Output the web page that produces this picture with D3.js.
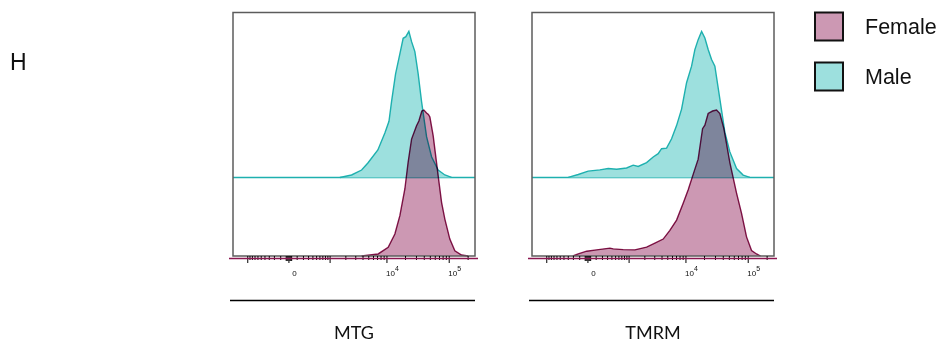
<!DOCTYPE html>
<html>
<head>
<meta charset="utf-8">
<title>MTG / TMRM histograms</title>
<script src="https://d3js.org/d3.v7.min.js"></script>
<style>
    body { margin: 0; background: #fff; }
    svg { display: block; }
    .tick-lbl { font: 8px "Liberation Sans", Arial, sans-serif; fill: #111; }
    .legend text { font: 21.5px "Liberation Sans", Arial, sans-serif; fill: #111; }
    .panel-name { font: 18px Lato, "Open Sans", sans-serif; fill: #111; }
    .fig-letter { font: 23px "Liberation Sans", Arial, sans-serif; fill: #111; }
</style>
</head>
<body>
<svg width="947" height="345"></svg>
<script>
// categories
const panelNames = ["MTG", "TMRM"];
const groups = ["Female", "Male"];

// histogram values: [fluorescence intensity, % of mode]
const mtgFemale = [[3857,0],[7310,1.4],[10670,6],[13710,15.1],[16520,27.6],[19890,45.9],[22450,64.2],
    [25500,80.1],[30640,89.2],[33380,92.5],[37280,99.3],[40130,100],[44320,98],[47370,97],[50060,95.2],
    [56480,82.4],[67870,55],[76930,36.8],[86800,25.3],[104200,11.6],[125300,3.6],[160100,0.7],[203900,0]];
const mtgMale = [[1588,0],[2589,1.7],[3857,5.1],[4930,9.9],[7230,18.8],[9420,30.5],[11000,38.5],
    [12110,51.9],[14080,70.9],[16520,84.6],[18670,95.3],[20640,96.4],[23060,100],[25500,93],[28790,86.2],
    [32520,70.9],[36860,51.9],[44320,27.9],[53260,14.2],[67870,5.1],[86800,1.7],[110900,0]];
const tmrmFemale = [[-200,0],[-114,1.4],[-8,3.3],[114,4.2],[364,5.4],[447,4.9],[770,4.4],[1334,4.2],
    [2197,6.1],[3078,8.8],[4270,11.6],[5530,17.6],[7148,24.6],[9180,36.2],[11090,45.4],[13360,55.9],
    [16090,66.3],[18950,87.2],[20640,89.6],[23320,97.6],[27450,99.3],[31800,100],[35940,97.6],[41640,87.2],
    [51900,64],[66400,43.1],[79740,29.2],[95800,13.1],[115200,3.7],[138300,1.4],[160000,0]];
const tmrmMale = [[-290,0],[-114,2],[8,4.3],[165,5.2],[325,6.1],[544,5.6],[910,6.5],[1236,8.4],[1541,7.5],
    [2197,10.2],[2876,14],[3509,16.3],[4010,19.7],[4874,20.1],[5908,26.5],[7148,35.5],[8641,46.8],
    [10430,64.9],[12580,76.2],[14240,87.6],[16090,94.4],[18270,100],[20640,95.5],[23320,87.6],[26440,80.8],
    [29880,76.2],[35940,53.6],[43180,31],[51900,17.5],[66400,6.1],[84600,1.6],[108100,0]];

// axis ticks
const majorTicks = [-1000, 0, 1000, 10000, 100000];
const minorTicks = [-900,-800,-700,-600,-500,-400,-300,-200,-100,100,200,300,400,500,600,700,800,900,
    2000,3000,4000,5000,6000,7000,8000,9000,20000,30000,40000,50000,60000,70000,80000,90000,200000];
const zeroTicks = [-30,-20,-10,10,20,30];
const labelTicks = [0, 10000, 100000];
const labelBase = ["0", "10", "10"];
const labelExp = ["", "4", "5"];

const colors = {
    femaleFill: "#cc98b3", femaleStroke: "#8a1650",
    maleFill: "#9de0de", maleStroke: "#1eb0af"
};

const panelX = [233, 532];
const panelW = 242;
const boxTop = 12.5, boxBottom = 256;
const maleOffset = 53.8; // offset of the male histogram, in % of mode

const x = d3.scaleSymlog().constant(285).domain([-1880, 262144]).range([0, panelW]);
const y = d3.scaleLinear().domain([0, 100]).range([boxBottom, boxBottom - 146]);

const svg = d3.select("svg");

const panels = [
    {name: panelNames[0], female: mtgFemale, male: mtgMale},
    {name: panelNames[1], female: tmrmFemale, male: tmrmMale}
];

panels.forEach((p, i) => {
    const g = svg.append("g").attr("transform", `translate(${panelX[i]},0)`);

    // male (offset) histogram
    g.append("line")
        .attr("x1", 0).attr("x2", panelW)
        .attr("y1", y(maleOffset)).attr("y2", y(maleOffset))
        .attr("stroke", colors.maleStroke).attr("stroke-width", 1.4);
    g.append("path").datum(p.male)
        .attr("fill", colors.maleFill)
        .attr("d", d3.area().x(d => x(d[0])).y0(y(maleOffset)).y1(d => y(maleOffset + d[1])));
    g.append("path").datum(p.male)
        .attr("fill", "none").attr("stroke", colors.maleStroke).attr("stroke-width", 1.4)
        .attr("d", d3.line().x(d => x(d[0])).y(d => y(maleOffset + d[1])));

    // female histogram
    g.append("path").datum(p.female)
        .attr("fill", colors.femaleFill)
        .style("mix-blend-mode", "multiply")
        .attr("d", d3.area().x(d => x(d[0])).y0(y(0)).y1(d => y(d[1])));
    g.append("path").datum(p.female)
        .attr("fill", "none").attr("stroke", colors.femaleStroke).attr("stroke-width", 1.4)
        .style("mix-blend-mode", "multiply")
        .attr("d", d3.line().x(d => x(d[0])).y(d => y(d[1])));

    // frame
    g.append("rect")
        .attr("x", 0).attr("y", boxTop)
        .attr("width", panelW).attr("height", boxBottom - boxTop)
        .attr("fill", "none").attr("stroke", "#5c5c5c").attr("stroke-width", 1.5);

    // biexponential axis ticks
    const tickAxis = (vals, size) => g.append("g")
        .attr("transform", `translate(0,${boxBottom})`)
        .call(d3.axisBottom(x).tickValues(vals).tickSize(size).tickFormat(""))
        .call(a => a.select(".domain").remove())
        .call(a => a.selectAll("line").attr("stroke", "#000").attr("stroke-width", 1));
    tickAxis(minorTicks, 4);
    tickAxis(zeroTicks, 5);
    tickAxis(majorTicks, 7);

    g.append("line")
        .attr("x1", -4).attr("x2", panelW + 3)
        .attr("y1", boxBottom + 2.5).attr("y2", boxBottom + 2.5)
        .attr("stroke", colors.femaleStroke).attr("stroke-width", 1.5);

    labelTicks.forEach((v, j) => {
        const t = g.append("text").attr("class", "tick-lbl")
            .attr("x", x(v) + 6).attr("y", 276)
            .attr("text-anchor", "middle")
            .text(labelBase[j]);
        if (labelExp[j]) {
            t.append("tspan").attr("dy", -5).style("font-size", "7px").text(labelExp[j]);
        }
    });

    // underline and panel name
    svg.append("line")
        .attr("x1", panelX[i] - 3).attr("x2", panelX[i] + panelW)
        .attr("y1", 300.5).attr("y2", 300.5)
        .attr("stroke", "#000").attr("stroke-width", 1.6);
    svg.append("text").attr("class", "panel-name")
        .attr("x", panelX[i] + panelW / 2).attr("y", 339)
        .attr("text-anchor", "middle")
        .text(p.name);
});

// panel letter
svg.append("text").attr("class", "fig-letter").attr("x", 10).attr("y", 70).text("H");

// legend
const legend = svg.append("g").attr("class", "legend");
const legendFill = [colors.femaleFill, colors.maleFill];
groups.forEach((name, i) => {
    const ly = 12.5 + i * 50;
    legend.append("rect")
        .attr("x", 815).attr("y", ly).attr("width", 28).attr("height", 28)
        .attr("fill", legendFill[i]).attr("stroke", "#111").attr("stroke-width", 2);
    legend.append("text").attr("x", 865).attr("y", ly + 21.5).text(name);
});
</script>
</body>
</html>
